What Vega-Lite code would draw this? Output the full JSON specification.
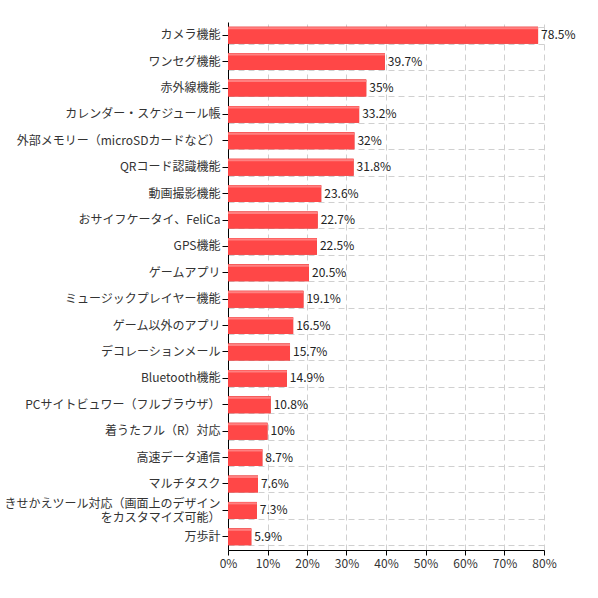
{
  "$schema": "https://vega.github.io/schema/vega-lite/v6.json",
  "width": 316,
  "height": 528,
  "autosize": "none",
  "padding": {"left": 228, "top": 22, "right": 54, "bottom": 48},
  "background": "white",
  "view": {"stroke": null},
  "config": {
    "font": "Noto Sans CJK JP",
    "axis": {"labelFont": "Noto Sans CJK JP", "labelFontSize": 12, "labelColor": "#333"}
  },
  "data": {
    "values": [
      {"item": "カメラ機能", "v": 0.785},
      {"item": "ワンセグ機能", "v": 0.397},
      {"item": "赤外線機能", "v": 0.35},
      {"item": "カレンダー・スケジュール帳", "v": 0.332},
      {"item": "外部メモリー（microSDカードなど）", "v": 0.32},
      {"item": "QRコード認識機能", "v": 0.318},
      {"item": "動画撮影機能", "v": 0.236},
      {"item": "おサイフケータイ、FeliCa", "v": 0.227},
      {"item": "GPS機能", "v": 0.225},
      {"item": "ゲームアプリ", "v": 0.205},
      {"item": "ミュージックプレイヤー機能", "v": 0.191},
      {"item": "ゲーム以外のアプリ", "v": 0.165},
      {"item": "デコレーションメール", "v": 0.157},
      {"item": "Bluetooth機能", "v": 0.149},
      {"item": "PCサイトビュワー（フルブラウザ）", "v": 0.108},
      {"item": "着うたフル（R）対応", "v": 0.10},
      {"item": "高速データ通信", "v": 0.087},
      {"item": "マルチタスク", "v": 0.076},
      {"item": "きせかえツール対応（画面上のデザイン|をカスタマイズ可能）", "v": 0.073},
      {"item": "万歩計", "v": 0.059}
    ]
  },
  "encoding": {
    "y": {"field": "item", "type": "nominal", "sort": null, "title": null,
      "scale": {"paddingInner": 0.36, "paddingOuter": 0.18}},
    "x": {"field": "v", "type": "quantitative", "title": null,
      "scale": {"domain": [0, 0.8], "nice": false},
      "axis": {"format": ".0%", "values": [0, 0.1, 0.2, 0.3, 0.4, 0.5, 0.6, 0.7, 0.8],
        "labelOverlap": false, "labelFlush": false, "grid": true, "gridColor": "#d0d0d0", "gridDash": [6, 4],
        "domainColor": "#000", "tickColor": "#000", "tickSize": 5, "labelPadding": 3}}
  },
  "layer": [
    {
      "mark": {"type": "bar", "color": "#c93a3a"},
      "encoding": {
        "y": {"field": "item", "type": "nominal", "sort": null,
          "axis": {"orient": "left", "labels": false, "ticks": false, "domain": false,
            "grid": true, "tickBand": "extent", "gridColor": "#d0d0d0", "gridDash": [6, 4], "title": null}}
      }
    },
    {
      "mark": {"type": "bar", "color": "#ff4747", "x2Offset": -3, "stroke": null},
      "encoding": {
        "y": {"field": "item", "type": "nominal", "sort": null,
          "axis": {"orient": "left", "grid": false, "domainColor": "#000", "tickColor": "#000",
            "tickSize": 6, "labelPadding": 2, "labelExpr": "split(datum.label, '|')",
            "labelOffset": {"condition": {"test": "indexof(datum.label, '|') >= 0", "value": -6}, "value": 0},
            "labelLineHeight": 14, "labelLimit": 240, "title": null}}
      }
    },
    {
      "mark": {"type": "bar", "color": "#ff8080", "x2Offset": -3, "height": 2, "yOffset": -7},
      "encoding": {
        "y": {"field": "item", "type": "nominal", "sort": null, "axis": null}
      }
    },
    {
      "mark": {"type": "text", "align": "left", "dx": 3, "fontSize": 12, "color": "#222"},
      "encoding": {
        "y": {"field": "item", "type": "nominal", "sort": null, "axis": null},
        "text": {"field": "v", "type": "quantitative", "format": ".1~%"}
      }
    }
  ],
  "resolve": {"axis": {"y": "independent"}}
}
